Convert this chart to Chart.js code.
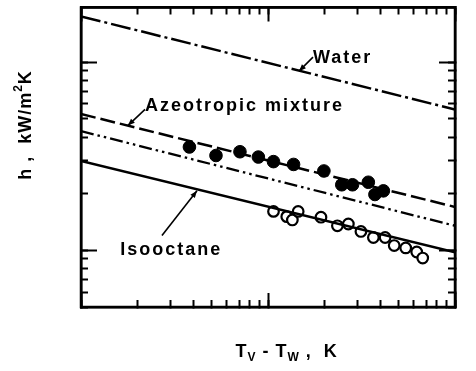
<!DOCTYPE html>
<html>
<head>
<meta charset="utf-8">
<script src="https://cdn.jsdelivr.net/npm/chart.js@4/dist/chart.umd.min.js"></script>
<style>
  html, body { margin: 0; padding: 0; background: #fff; }
  #wrap { width: 476px; height: 371px; }
</style>
</head>
<body>
<div id="wrap"><canvas id="c" width="476" height="371"></canvas></div>
<script>
// ---- data ----
const xMin = 1, xMax = 100, yMin = 0.5, yMax = 19.5;

const lineX = [1, 100];
const waterH = [17.5, 5.6];
const azeoLineH = [5.3, 1.70];
const dashDotDotH = [4.3, 1.35];
const isoLineH = [2.98, 0.975];

const azeoX = [3.8, 5.27, 7.08, 8.88, 10.7, 13.7, 19.9, 24.8, 28.3, 34.4, 37.3, 41.4];
const azeoH = [3.54, 3.19, 3.34, 3.13, 2.96, 2.86, 2.64, 2.23, 2.23, 2.30, 1.98, 2.07];

const isoX = [10.7, 12.6, 13.5, 14.5, 19.2, 23.5, 26.9, 31.4, 36.6, 42.3, 47.3, 54.5, 62.4, 67.2];
const isoH = [1.61, 1.51, 1.45, 1.61, 1.50, 1.35, 1.38, 1.26, 1.17, 1.17, 1.06, 1.03, 0.98, 0.91];

const xTickLabels = ['1', '10', '100'];
const yTickLabels = ['1', '10'];

const labelText = ['Water', 'Azeotropic mixture', 'Isooctane'];
const labelX = [17.4, 2.20, 1.62];
const labelY = [9.88, 5.47, 0.94];
const leaderFromX = [17.4, 2.20, 2.71];
const leaderFromY = [10.63, 5.61, 1.20];
const leaderToX = [14.65, 1.78, 4.17];
const leaderToY = [8.95, 4.60, 2.07];

const FONT = '"Liberation Sans", Arial, Helvetica, sans-serif';

function pts(xv, yv) { return xv.map((x, i) => ({ x: x, y: yv[i] })); }

function isMajor(v) {
  const l = Math.log10(v);
  return Math.abs(l - Math.round(l)) < 1e-6;
}

// all 1..9 × 10^n values inside [min, max]
function logTickValues(min, max) {
  const out = [];
  const e0 = Math.floor(Math.log10(min)), e1 = Math.ceil(Math.log10(max));
  for (let e = e0; e <= e1; e++) {
    for (let m = 1; m <= 9; m++) {
      const v = Number((m * Math.pow(10, e)).toPrecision(6));
      if (v >= min * 0.9999 && v <= max * 1.0001) out.push(v);
    }
  }
  return out;
}

// builds one logarithmic axis that draws inward tick marks natively
function logAxis(axis, position, min, max, opts) {
  const len = opts.len;
  const majorsOnly = !!opts.majorsOnly;
  const labels = opts.labels || null;
  return {
    type: 'logarithmic', axis: axis, position: position, min: min, max: max,
    weight: 0,
    grid: { display: true, drawOnChartArea: false, drawTicks: true, tickLength: -len, tickWidth: 2, tickColor: '#000', color: '#000' },
    border: { display: !!opts.border, width: 2.5, color: '#000' },
    afterBuildTicks(s) {
      let vals = logTickValues(min, max);
      if (majorsOnly) vals = vals.filter(isMajor);
      s.ticks = vals.map(v => ({ value: v }));
    },
    afterFit(s) {
      if (axis === 'x') { s.height = 0; } else { s.width = 0; }
      s.paddingLeft = 0; s.paddingRight = 0; s.paddingTop = 0; s.paddingBottom = 0;
    },
    ticks: labels ? {
      display: true, autoSkip: false, maxRotation: 0, minRotation: 0,
      padding: opts.pad + len, color: '#000',
      font: { family: FONT, size: 17, weight: 'bold' },
      callback(v) { const s = String(v); return labels.includes(s) ? s : ''; }
    } : { display: false }
  };
}

const annotationPlugin = {
  id: 'annot',
  afterDraw(chart) {
    const ctx = chart.ctx;
    const a = chart.chartArea;
    const sx = chart.scales.x, sy = chart.scales.y;
    ctx.save();
    ctx.setLineDash([]);
    ctx.strokeStyle = '#000';
    ctx.fillStyle = '#000';

    // frame
    ctx.lineWidth = 2.5;
    ctx.strokeRect(a.left, a.top, a.right - a.left, a.bottom - a.top);

    ctx.font = 'bold 18px ' + FONT;
    ctx.letterSpacing = '2px';
    ctx.textBaseline = 'alphabetic';
    ctx.textAlign = 'left';
    labelText.forEach((txt, i) => {
      ctx.fillText(txt, sx.getPixelForValue(labelX[i]), sy.getPixelForValue(labelY[i]));
    });
    ctx.letterSpacing = '0px';
    ctx.lineWidth = 1.6;
    labelText.forEach((txt, i) => {
      const x0 = sx.getPixelForValue(leaderFromX[i]), y0 = sy.getPixelForValue(leaderFromY[i]);
      const x1 = sx.getPixelForValue(leaderToX[i]), y1 = sy.getPixelForValue(leaderToY[i]);
      ctx.beginPath(); ctx.moveTo(x0, y0); ctx.lineTo(x1, y1); ctx.stroke();
      const ang = Math.atan2(y1 - y0, x1 - x0);
      const L = 7, W = 2.8;
      ctx.beginPath();
      ctx.moveTo(x1, y1);
      ctx.lineTo(x1 - L * Math.cos(ang) + W * Math.sin(ang), y1 - L * Math.sin(ang) - W * Math.cos(ang));
      ctx.lineTo(x1 - L * Math.cos(ang) - W * Math.sin(ang), y1 - L * Math.sin(ang) + W * Math.cos(ang));
      ctx.closePath(); ctx.fill();
    });

    const big = 'bold 18px ' + FONT, small = 'bold 12px ' + FONT;
    // y title: h , kW/m²K
    ctx.save();
    ctx.translate(26, 125);
    ctx.rotate(-Math.PI / 2);
    ctx.letterSpacing = '1px';
    ctx.font = big;
    const p1 = 'h ,  kW/m', p3 = 'K';
    const w1 = ctx.measureText(p1).width, w3 = ctx.measureText(p3).width;
    ctx.font = small;
    const w2 = ctx.measureText('2').width;
    const tot = w1 + w2 + w3;
    let cx = -tot / 2;
    ctx.textBaseline = 'middle';
    ctx.font = big; ctx.fillText(p1, cx, 0); cx += w1;
    ctx.font = small; ctx.fillText('2', cx, -7); cx += w2;
    ctx.font = big; ctx.fillText(p3, cx, 0);
    ctx.restore();

    // x title: T_V - T_W , K
    ctx.save();
    ctx.letterSpacing = '1px';
    ctx.textBaseline = 'alphabetic';
    const parts = [
      { t: 'T', f: big, dy: 0 },
      { t: 'V', f: small, dy: 4 },
      { t: ' - ', f: big, dy: 0 },
      { t: 'T', f: big, dy: 0 },
      { t: 'W', f: small, dy: 4 },
      { t: ' ,  K', f: big, dy: 0 }
    ];
    let total = 0;
    parts.forEach(p => { ctx.font = p.f; p.w = ctx.measureText(p.t).width; total += p.w; });
    let xx = a.left + (a.right - a.left) * 0.55 - total / 2;
    const base = 357;
    parts.forEach(p => { ctx.font = p.f; ctx.fillText(p.t, xx, base + p.dy); xx += p.w; });
    ctx.restore();

    ctx.restore();
  }
};

new Chart(document.getElementById('c'), {
  type: 'scatter',
  data: {
    datasets: [
      { label: 'Water', data: pts(lineX, waterH), showLine: true, borderColor: '#000', borderWidth: 2.5, borderDash: [20, 4, 3, 4], pointRadius: 0 },
      { label: 'Azeotropic mixture', data: pts(lineX, azeoLineH), showLine: true, borderColor: '#000', borderWidth: 2.5, borderDash: [15, 5], pointRadius: 0 },
      { label: 'dash-dot-dot', data: pts(lineX, dashDotDotH), showLine: true, borderColor: '#000', borderWidth: 2.3, borderDash: [13, 4, 2.5, 4, 2.5, 4], pointRadius: 0 },
      { label: 'Isooctane', data: pts(lineX, isoLineH), showLine: true, borderColor: '#000', borderWidth: 2.5, pointRadius: 0 },
      { label: 'Azeotropic data', data: pts(azeoX, azeoH), showLine: false, pointRadius: 6.3, pointBackgroundColor: '#000', pointBorderColor: '#000', pointBorderWidth: 1 },
      { label: 'Isooctane data', data: pts(isoX, isoH), showLine: false, pointRadius: 5.3, pointBackgroundColor: '#fff', pointBorderColor: '#000', pointBorderWidth: 2.2 }
    ]
  },
  options: {
    responsive: false,
    animation: false,
    events: [],
    layout: { padding: { left: 81, top: 7, right: 21, bottom: 64 } },
    plugins: { legend: { display: false }, tooltip: { enabled: false } },
    scales: {
      x: logAxis('x', 'bottom', xMin, xMax, { len: 7, labels: xTickLabels, pad: 9, border: true }),
      xMaj: logAxis('x', 'bottom', xMin, xMax, { len: 14, majorsOnly: true }),
      xTop: logAxis('x', 'top', xMin, xMax, { len: 7, border: true }),
      xTopMaj: logAxis('x', 'top', xMin, xMax, { len: 14, majorsOnly: true }),
      y: logAxis('y', 'left', yMin, yMax, { len: 7, labels: yTickLabels, pad: 15, border: true }),
      yMaj: logAxis('y', 'left', yMin, yMax, { len: 16, majorsOnly: true }),
      yRight: logAxis('y', 'right', yMin, yMax, { len: 7, border: true }),
      yRightMaj: logAxis('y', 'right', yMin, yMax, { len: 16, majorsOnly: true })
    }
  },
  plugins: [annotationPlugin]
});
</script>
</body>
</html>
